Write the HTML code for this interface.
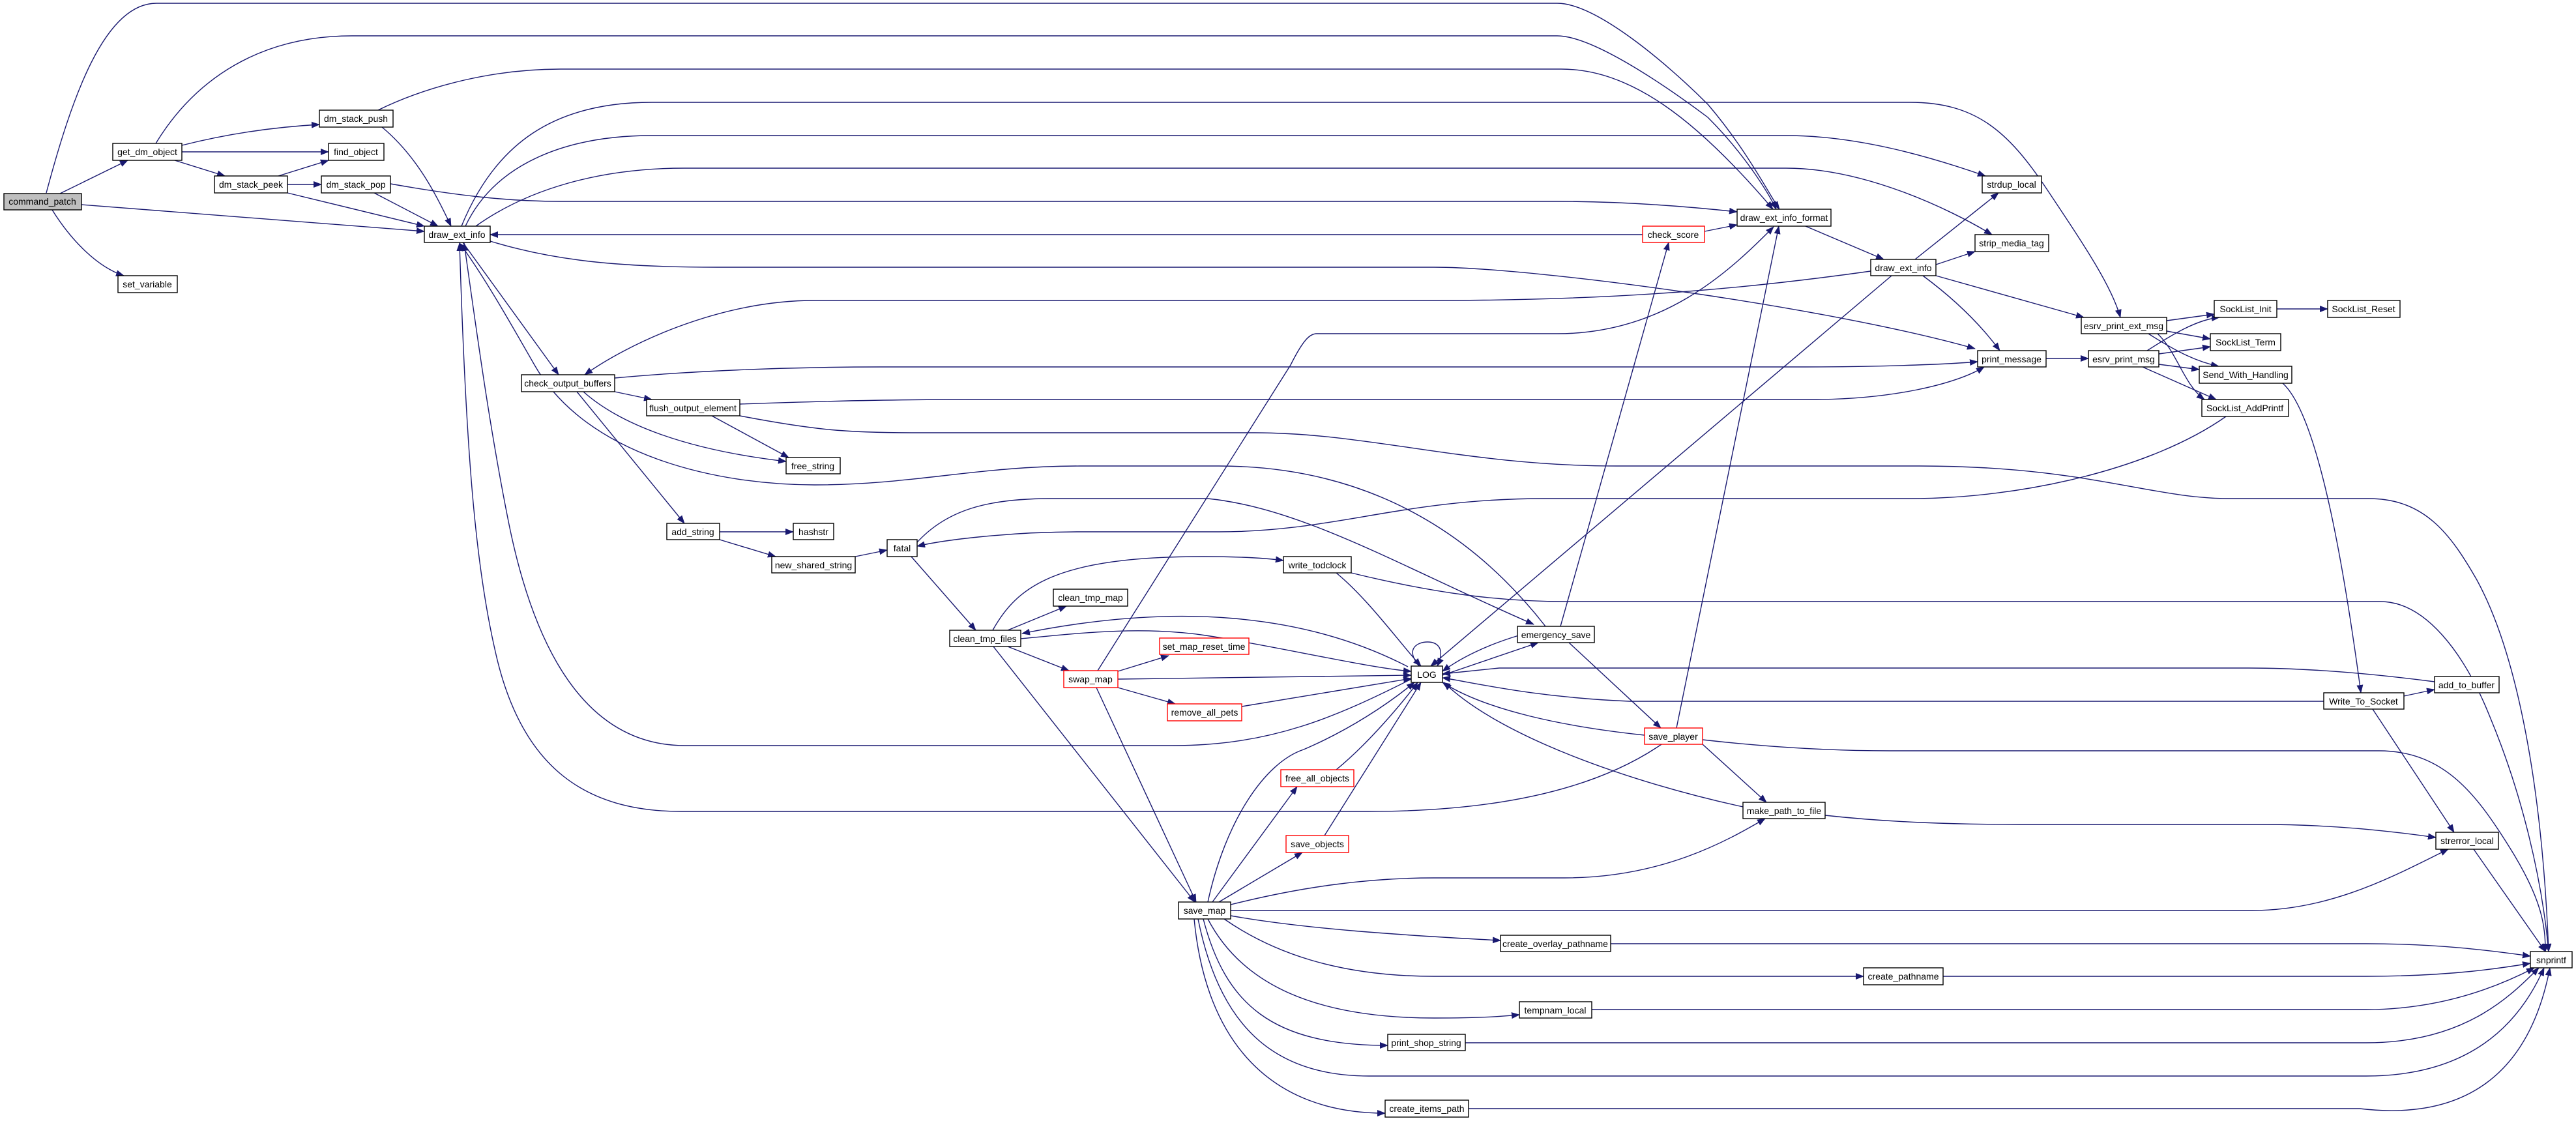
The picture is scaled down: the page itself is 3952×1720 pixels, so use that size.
<!DOCTYPE html>
<html><head><meta charset="utf-8"><style>
html,body{margin:0;padding:0;background:#fff;}
svg{display:block;}
text{font-family:"Liberation Sans",Arial,sans-serif;font-size:14px;fill:#000;}
</style></head><body>
<svg width="3952" height="1720" viewBox="0 0 3952 1720" xmlns="http://www.w3.org/2000/svg">
<defs>
<marker id="a" markerUnits="userSpaceOnUse" markerWidth="13" markerHeight="10" refX="12" refY="5" orient="auto">
<path d="M0,0 L13,5 L0,10 z" fill="#191970"/>
</marker>
</defs>
<g fill="none" stroke="#191970" stroke-width="1.4" marker-end="url(#a)">
<path d="M71,296 C110,150 160,5 240,5 L2389,5 C2450,5 2560,100 2620,160 C2680,230 2715,300 2730,321"/>
<path d="M239,220 C300,120 400,55 540,55 L2389,55 C2450,55 2580,150 2620,180 C2680,240 2715,300 2725,321"/>
<path d="M580,169 C660,130 760,106 860,106 L2395,106 C2500,106 2600,180 2720,321"/>
<path d="M708,347 C760,220 850,157 1000,157 L2930,157 C3030,157 3080,200 3140,290 C3200,380 3240,440 3253,487"/>
<path d="M714,347 C760,250 870,208 1000,208 L2740,208 C2850,208 2960,240 3046,270"/>
<path d="M730,347 C810,290 920,258 1050,258 L2740,258 C2860,258 2990,320 3056,360"/>
<path d="M599,282 C700,300 780,309 860,309 L2390,309 C2500,309 2600,318 2665,325"/>
<path d="M2520,360 L752,360"/>
<path d="M752,370 C850,400 950,410 1100,410 L2200,410 C2350,410 2800,470 3030,535"/>
<path d="M2870,416 C2700,440 2500,461 2200,461 L1250,461 C1100,461 960,530 897,575"/>
<path d="M943,580 C1050,570 1200,563 1350,563 L2770,563 C2900,563 3000,558 3034,555"/>
<path d="M1135,620 C1300,614 1400,613 1500,613 L2780,613 C2900,613 3000,590 3044,563"/>
<path d="M1135,638 C1250,660 1300,664 1400,664 L1925,664 C2100,664 2250,715 2480,715 L2945,715 C3200,715 3300,765 3420,765 L3634,765 C3720,765 3760,820 3800,890 C3860,1000 3900,1200 3910,1460"/>
<path d="M710,372 L857,575"/>
<path d="M2371,961 C2300,870 2150,715 1870,715 L1657,715 C1500,715 1400,744 1250,744 C1100,744 900,700 820,560 C780,490 740,420 705,373"/>
<path d="M1401,839 C1450,780 1520,765 1612,765 L1853,765 C2000,780 2150,870 2353,958"/>
<path d="M3415,639 C3300,720 3100,765 2930,765 L2370,765 C2150,765 2050,816 1870,816 L1657,816 C1550,816 1450,828 1407,838"/>
<path d="M1398,854 L1497,967"/>
<path d="M1546,967 L1636,930"/>
<path d="M1523,967 C1560,900 1620,854 1846,854 C1900,854 1940,856 1969,860"/>
<path d="M1566,980 C1650,972 1750,960 1850,975 C1950,990 2100,1025 2165,1030"/>
<path d="M2160,1023 C2000,940 1800,925 1568,972"/>
<path d="M1546,992 L1640,1029"/>
<path d="M1524,992 L1833,1384"/>
<path d="M1715,1030 L1793,1006"/>
<path d="M1715,1042 L2165,1036"/>
<path d="M1715,1055 L1803,1080"/>
<path d="M1905,1084 L2165,1041"/>
<path d="M1682,1055 L1835,1384"/>
<path d="M1684,1029 L1980,560 C2000,520 2010,512 2020,512 L2389,512 C2550,512 2650,420 2721,348"/>
<path d="M2050,879 C2100,920 2150,990 2180,1022"/>
<path d="M2073,879 C2200,910 2300,923 2400,923 L3652,923 C3720,923 3780,1000 3820,1100 C3870,1220 3900,1350 3910,1460"/>
<path d="M2177,1022 C2155,995 2175,985 2190,985 C2205,985 2218,995 2205,1022"/>
<path d="M2330,975 C2280,990 2240,1010 2213,1030"/>
<path d="M2213,1036 L2360,986"/>
<path d="M2394,961 L2560,372"/>
<path d="M2407,986 L2548,1117"/>
<path d="M2523,1128 C2400,1115 2280,1090 2213,1047"/>
<path d="M2674,1238 C2500,1200 2300,1130 2215,1047"/>
<path d="M3565,1076 L2500,1076 C2350,1070 2250,1045 2213,1040"/>
<path d="M3735,1046 C3650,1035 3550,1025 3450,1025 L2300,1025 L2213,1034"/>
<path d="M2902,423 L2195,1022"/>
<path d="M2572,1117 L2729,347"/>
<path d="M1853,1384 C1880,1260 1940,1170 2000,1150 C2070,1120 2130,1080 2170,1047"/>
<path d="M1860,1384 L1990,1207"/>
<path d="M2050,1181 C2100,1140 2150,1080 2175,1047"/>
<path d="M1870,1384 L1998,1308"/>
<path d="M2032,1282 L2180,1047"/>
<path d="M1888,1388 C2000,1360 2100,1347 2200,1347 L2400,1347 C2550,1347 2650,1290 2708,1256"/>
<path d="M1888,1397 L3455,1397 C3580,1397 3680,1340 3756,1303"/>
<path d="M1888,1405 C2000,1425 2150,1435 2302,1443"/>
<path d="M2471,1448 L3630,1448 C3750,1448 3830,1460 3882,1467"/>
<path d="M1878,1410 C1950,1460 2050,1498 2200,1498 L2859,1498"/>
<path d="M2981,1498 L3630,1498 C3760,1498 3840,1485 3882,1478"/>
<path d="M1853,1410 C1900,1500 2000,1562 2200,1562 C2280,1562 2310,1559 2331,1557"/>
<path d="M2442,1549 L3630,1549 C3750,1549 3840,1510 3888,1485"/>
<path d="M1846,1410 C1880,1540 1950,1604 2129,1604"/>
<path d="M2248,1600 L3630,1600 C3780,1600 3850,1530 3895,1485"/>
<path d="M1838,1410 C1870,1570 1950,1651 2100,1651 L3630,1651 C3800,1651 3870,1560 3903,1485"/>
<path d="M1832,1410 C1850,1600 1950,1708 2125,1708"/>
<path d="M2253,1701 L3620,1701 C3780,1720 3880,1650 3912,1485"/>
<path d="M2800,1251 C2900,1262 3000,1265 3100,1265 L3470,1265 C3600,1265 3700,1280 3737,1285"/>
<path d="M2612,1142 L2710,1231"/>
<path d="M2612,1135 C2700,1145 2800,1152 2900,1152 L3650,1152 C3750,1152 3800,1220 3850,1300 C3900,1380 3905,1420 3905,1460"/>
<path d="M2549,1142 C2450,1210 2300,1245 2100,1245 L1045,1245 C900,1245 800,1180 760,1000 C730,870 715,700 705,373"/>
<path d="M2165,1042 C2050,1100 1950,1144 1800,1144 L1051,1144 C900,1144 820,1000 780,800 C750,650 730,500 712,373"/>
<path d="M3640,1088 L3765,1277"/>
<path d="M3688,1068 L3735,1058"/>
<path d="M3502,588 C3560,640 3600,900 3622,1063"/>
<path d="M3795,1303 L3905,1460"/>
<path d="M2770,347 L2890,398"/>
<path d="M2615,355 L2665,345"/>
<path d="M2938,398 L3066,296"/>
<path d="M2970,406 L3030,386"/>
<path d="M2950,423 C3000,460 3040,500 3068,538"/>
<path d="M2970,423 L3197,487"/>
<path d="M3139,550 L3204,550"/>
<path d="M3324,492 L3397,482"/>
<path d="M3324,508 L3391,520"/>
<path d="M3296,512 C3340,540 3370,555 3404,562"/>
<path d="M3310,512 C3340,540 3350,590 3382,613"/>
<path d="M3294,538 C3330,515 3370,490 3405,487"/>
<path d="M3312,543 L3391,532"/>
<path d="M3312,559 L3374,567"/>
<path d="M3287,563 L3400,613"/>
<path d="M3493,474 L3571,474"/>
<path d="M92,297 L196,246"/>
<path d="M125,314 L651,355"/>
<path d="M80,322 C110,370 150,410 190,423"/>
<path d="M279,223 C350,205 420,195 490,191"/>
<path d="M279,233 L504,233"/>
<path d="M268,246 L345,270"/>
<path d="M427,270 L504,246"/>
<path d="M441,283 L493,283"/>
<path d="M441,296 L651,347"/>
<path d="M574,296 L672,347"/>
<path d="M586,195 C640,240 670,300 692,347"/>
<path d="M943,601 L1000,613"/>
<path d="M895,601 C950,650 1050,690 1206,708"/>
<path d="M1092,638 L1210,702"/>
<path d="M885,601 L1050,803"/>
<path d="M1104,816 L1217,816"/>
<path d="M1104,828 L1190,854"/>
<path d="M1312,854 L1361,844"/>
</g>
<g stroke-width="1.4" fill="#fff" stroke="#000">
<rect x="6" y="297" width="119" height="25" fill="#bfbfbf"/>
<rect x="173" y="220" width="106" height="26"/>
<rect x="181" y="423" width="91" height="26"/>
<rect x="490" y="169" width="113" height="26"/>
<rect x="504" y="220" width="85" height="26"/>
<rect x="329" y="270" width="112" height="26"/>
<rect x="493" y="270" width="106" height="26"/>
<rect x="651" y="347" width="101" height="25"/>
<rect x="800" y="575" width="143" height="26"/>
<rect x="992" y="613" width="143" height="25"/>
<rect x="1206" y="702" width="83" height="25"/>
<rect x="1023" y="803" width="81" height="25"/>
<rect x="1217" y="803" width="62" height="25"/>
<rect x="1184" y="854" width="128" height="25"/>
<rect x="1361" y="828" width="46" height="26"/>
<rect x="2520" y="347" width="95" height="25" stroke="#f00"/>
<rect x="2665" y="321" width="144" height="26"/>
<rect x="2870" y="398" width="100" height="25"/>
<rect x="3041" y="270" width="91" height="26"/>
<rect x="3030" y="360" width="113" height="26"/>
<rect x="3034" y="538" width="105" height="25"/>
<rect x="3193" y="487" width="131" height="25"/>
<rect x="3204" y="538" width="108" height="25"/>
<rect x="3397" y="461" width="96" height="26"/>
<rect x="3571" y="461" width="111" height="26"/>
<rect x="3391" y="512" width="108" height="26"/>
<rect x="3374" y="562" width="142" height="26"/>
<rect x="3378" y="613" width="133" height="26"/>
<rect x="1969" y="854" width="104" height="25"/>
<rect x="1616" y="904" width="114" height="26"/>
<rect x="1457" y="967" width="109" height="25"/>
<rect x="1779" y="979" width="137" height="25" stroke="#f00"/>
<rect x="1632" y="1029" width="83" height="26" stroke="#f00"/>
<rect x="1791" y="1080" width="114" height="26" stroke="#f00"/>
<rect x="2165" y="1022" width="48" height="25"/>
<rect x="2328" y="961" width="118" height="25"/>
<rect x="2523" y="1117" width="89" height="25" stroke="#f00"/>
<rect x="1965" y="1181" width="112" height="26" stroke="#f00"/>
<rect x="1973" y="1282" width="96" height="26" stroke="#f00"/>
<rect x="1808" y="1384" width="80" height="26"/>
<rect x="2302" y="1435" width="169" height="25"/>
<rect x="2331" y="1537" width="111" height="25"/>
<rect x="2129" y="1587" width="119" height="25"/>
<rect x="2125" y="1688" width="128" height="26"/>
<rect x="2674" y="1231" width="126" height="25"/>
<rect x="3735" y="1038" width="99" height="25"/>
<rect x="3565" y="1063" width="123" height="25"/>
<rect x="3737" y="1277" width="96" height="26"/>
<rect x="3882" y="1460" width="64" height="25"/>
<rect x="2859" y="1485" width="122" height="26"/>
</g>
<g text-anchor="middle">
<text x="65" y="314">command_patch</text>
<text x="226" y="238">get_dm_object</text>
<text x="226" y="441">set_variable</text>
<text x="546" y="187">dm_stack_push</text>
<text x="546" y="238">find_object</text>
<text x="385" y="288">dm_stack_peek</text>
<text x="546" y="288">dm_stack_pop</text>
<text x="701" y="365">draw_ext_info</text>
<text x="871" y="593">check_output_buffers</text>
<text x="1063" y="631">flush_output_element</text>
<text x="1247" y="720">free_string</text>
<text x="1063" y="821">add_string</text>
<text x="1248" y="821">hashstr</text>
<text x="1248" y="872">new_shared_string</text>
<text x="1384" y="846">fatal</text>
<text x="2567" y="365">check_score</text>
<text x="2737" y="339">draw_ext_info_format</text>
<text x="2920" y="416">draw_ext_info</text>
<text x="3086" y="288">strdup_local</text>
<text x="3086" y="378">strip_media_tag</text>
<text x="3086" y="556">print_message</text>
<text x="3258" y="505">esrv_print_ext_msg</text>
<text x="3258" y="556">esrv_print_msg</text>
<text x="3445" y="479">SockList_Init</text>
<text x="3626" y="479">SockList_Reset</text>
<text x="3445" y="530">SockList_Term</text>
<text x="3445" y="580">Send_With_Handling</text>
<text x="3444" y="631">SockList_AddPrintf</text>
<text x="2021" y="872">write_todclock</text>
<text x="1673" y="922">clean_tmp_map</text>
<text x="1511" y="985">clean_tmp_files</text>
<text x="1847" y="997">set_map_reset_time</text>
<text x="1673" y="1047">swap_map</text>
<text x="1848" y="1098">remove_all_pets</text>
<text x="2189" y="1040">LOG</text>
<text x="2387" y="979">emergency_save</text>
<text x="2567" y="1135">save_player</text>
<text x="2021" y="1199">free_all_objects</text>
<text x="2021" y="1300">save_objects</text>
<text x="1848" y="1402">save_map</text>
<text x="2386" y="1453">create_overlay_pathname</text>
<text x="2386" y="1555">tempnam_local</text>
<text x="2188" y="1605">print_shop_string</text>
<text x="2189" y="1706">create_items_path</text>
<text x="2737" y="1249">make_path_to_file</text>
<text x="3784" y="1056">add_to_buffer</text>
<text x="3626" y="1081">Write_To_Socket</text>
<text x="3785" y="1295">strerror_local</text>
<text x="3914" y="1478">snprintf</text>
<text x="2920" y="1503">create_pathname</text>
</g>
</svg>
</body></html>
